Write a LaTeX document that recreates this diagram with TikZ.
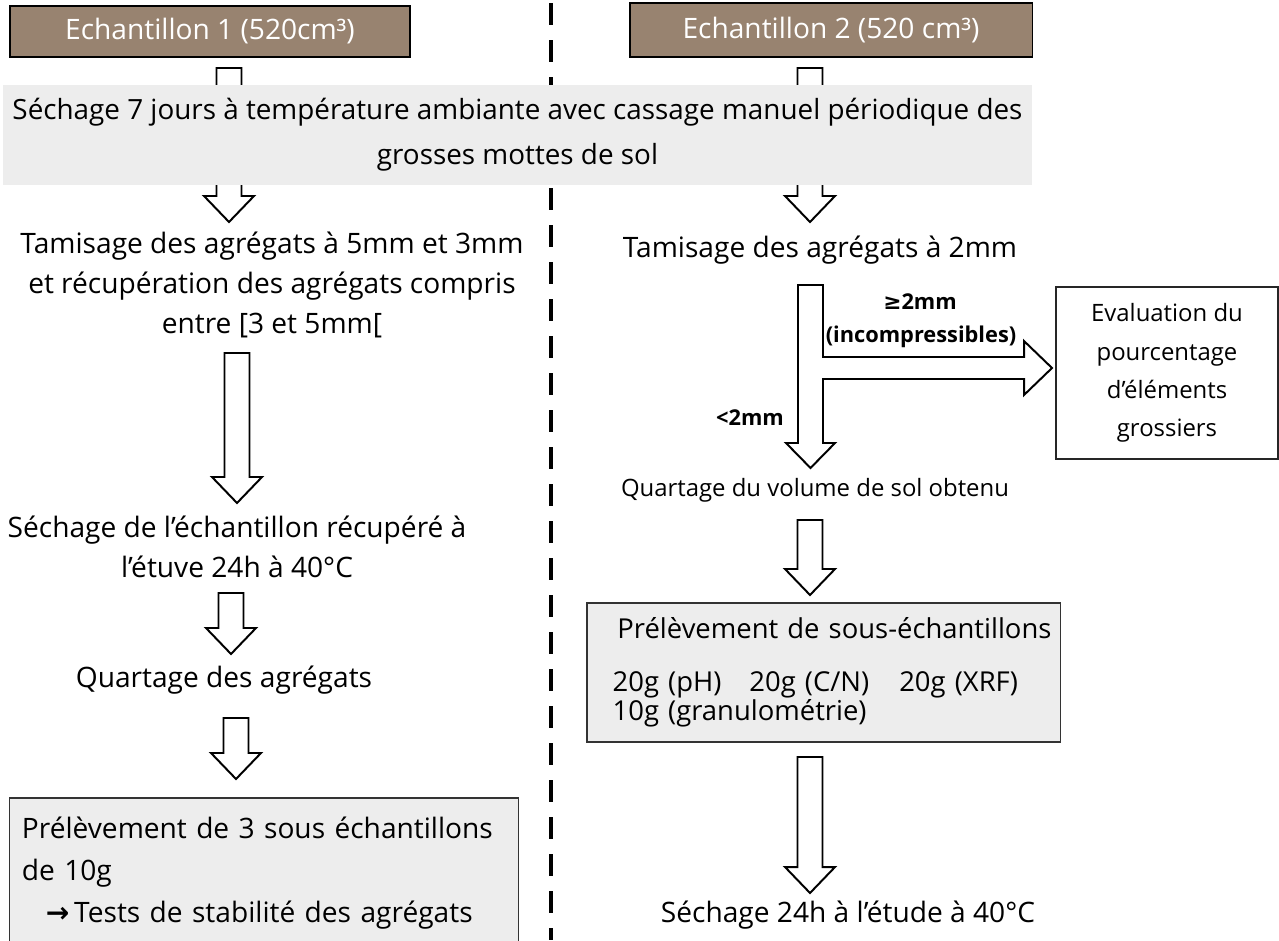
\documentclass[tikz,border=0pt]{standalone}
\usepackage{fontspec}
\setmainfont{Open Sans}
\newfontfamily\symfont{DejaVu Sans}
\usetikzlibrary{calc}

\definecolor{soilbrown}{RGB}{152,131,112}
\definecolor{panelgrey}{RGB}{237,237,237}

% hollow block arrow pointing down: #1 = top of shaft, #2 = tip
\newcommand{\hollowdown}[2]{%
  \draw[hollow] ($(#1)+(-12.5,0)$) -- ($(#2)+(-12.5,-26)$) -- ($(#2)+(-25,-26)$) -- (#2)
    -- ($(#2)+(25,-26)$) -- ($(#2)+(12.5,-26)$) -- ($(#1)+(12.5,0)$) -- cycle;}

\begin{document}
\begin{tikzpicture}[x=0.025cm, y=-0.025cm,
    every node/.style={font=\fontsize{20}{28.5}\selectfont},
    sample/.style={draw=black, line width=0.8pt, fill=soilbrown, text=white},
    band/.style={fill=panelgrey, align=center, font=\fontsize{19.8}{32}\selectfont},
    greybox/.style={draw=black!80, line width=0.8pt, fill=panelgrey},
    plainbox/.style={draw=black!85, line width=0.8pt, fill=white},
    txt/.style={align=center},
    tag/.style={font=\fontsize{15.5}{18}\selectfont\bfseries},
    hollow/.style={draw=black, fill=white, line width=1.4pt, line join=miter},
    divider/.style={line width=0.1cm, dash pattern=on 0.55cm off 0.375cm}
  ]
  \useasboundingbox[fill=white] (0,0) rectangle (1279,940);

  % separation between the two samples
  \coordinate (divtop) at (551,3);
  \coordinate (divbot) at (551,940);
  \draw[divider] (divtop) -- (divbot);

  % samples
  \node[sample, minimum width=10cm, minimum height=1.275cm] (ech1) at (210,31.5) {Echantillon 1 (520cm³)};
  \node[sample, minimum width=10.05cm, minimum height=1.35cm] (ech2) at (831,30) {Echantillon 2 (520 cm³)};

  \coordinate (a1top) at (229,68);  \coordinate (a1tip) at (229,222);
  \coordinate (b1top) at (810,68);  \coordinate (b1tip) at (810,222);
  \hollowdown{a1top}{a1tip}
  \hollowdown{b1top}{b1tip}

  % common drying step
  \node[band, minimum width=25.725cm, minimum height=2.5cm] (sechage) at (517.5,135)
    {Séchage 7 jours à température ambiante avec cassage manuel périodique des\\grosses mottes de sol};

  % left column
  \node[txt] (tamL) at (272,285) {Tamisage des agrégats à 5mm et 3mm\\et récupération des agrégats compris\\entre [3 et 5mm[};
  \node[txt] (etuve) at (237,547) {Séchage de l’échantillon récupéré à\\l’étuve 24h à 40°C};
  \node[txt] (quartL) at (224,680) {Quartage des agrégats};
  \node[greybox, minimum width=12.7cm, minimum height=3.75cm, text width=12.1cm, align=left,
        font=\fontsize{20}{30}\selectfont] (preL) at (264,873)
    {Prélèvement de 3 sous échantillons\\de 10g\\\hspace*{0.6cm}{\symfont\bfseries →}\,Tests de stabilité des agrégats};

  \coordinate (a2top) at (237,353); \coordinate (a2tip) at (237,503);
  \coordinate (a3top) at (231,593); \coordinate (a3tip) at (231,654);
  \coordinate (a4top) at (236,718); \coordinate (a4tip) at (236,779);
  \hollowdown{a2top}{a2tip}
  \hollowdown{a3top}{a3tip}
  \hollowdown{a4top}{a4tip}

  % right column
  \node[txt] (tamR) at (820,250) {Tamisage des agrégats à 2mm};
  \node[plainbox, minimum width=5.55cm, minimum height=4.3cm, align=center,
        font=\fontsize{17}{27.3}\selectfont] (eval) at (1167,373)
    {Evaluation du\\pourcentage\\d’éléments\\grossiers};
  \node[txt, font=\fontsize{17}{20}\selectfont] (quartR) at (815,490) {Quartage du volume de sol obtenu};
  \node[greybox, minimum width=11.825cm, minimum height=3.475cm, inner xsep=0.1cm,
        text width=11.5cm, align=left, font=\fontsize{19.5}{18}\selectfont] (preR) at (823.5,672.5)
    {\hspace*{0.6cm}\mbox{Prélèvement de sous-échantillons}\\[19.7pt]
     \hspace*{0.48cm}20g (pH)\hspace{0.7cm}20g (C/N)\hspace{0.75cm}20g (XRF)\\
     \hspace*{0.48cm}10g (granulométrie)};
  \node[txt] (sechR) at (848,915) {Séchage 24h à l’étude à 40°C};

  % sieving at 2mm, split in two fractions
  \coordinate (splittop) at (810.5,285);
  \coordinate (splittip) at (810.5,468);
  \coordinate (coarsetip) at (1052,368);
  \draw[hollow] ($(splittop)+(-12.5,0)$) -- ($(splittip)+(-12.5,-25)$) -- ($(splittip)+(-24.5,-25)$)
    -- (splittip) -- ($(splittip)+(24.5,-25)$) -- ($(splittip)+(12.5,-25)$)
    -- ($(coarsetip)+(-229,11)$) -- ($(coarsetip)+(-28,11)$) -- ($(coarsetip)+(-28,27)$)
    -- (coarsetip) -- ($(coarsetip)+(-28,-27)$) -- ($(coarsetip)+(-28,-11)$)
    -- ($(coarsetip)+(-229,-11)$) -- ($(splittop)+(12.5,0)$) -- cycle;
  \node[tag] (ge) at (920,302) {{\symfont\bfseries ≥}2mm};
  \node[tag] (inc) at (921,337) {(incompressibles)};
  \node[tag] (lt) at (750,418) {<2mm};

  \coordinate (b3top) at (810,520); \coordinate (b3tip) at (810,595);
  \coordinate (b4top) at (810,757); \coordinate (b4tip) at (810,893);
  \hollowdown{b3top}{b3tip}
  \hollowdown{b4top}{b4tip}
\end{tikzpicture}
\end{document}
